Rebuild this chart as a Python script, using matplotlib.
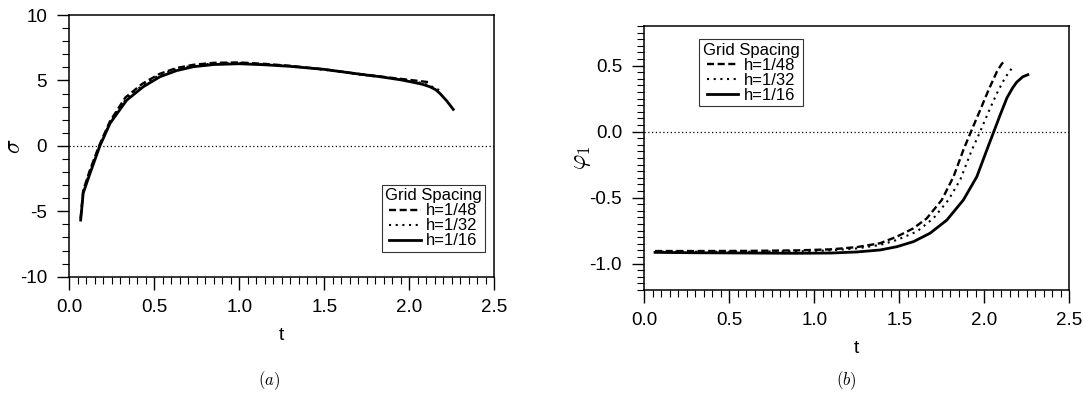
import numpy as np
import matplotlib.pyplot as plt
from matplotlib.ticker import MultipleLocator, FormatStrFormatter

plt.rcParams['font.family'] = ['Liberation Sans', 'DejaVu Sans']
plt.rcParams['axes.unicode_minus'] = False
plt.rcParams['mathtext.fontset'] = 'cm'

# (a) sigma vs t
t_a_48 = [0.067, 0.082, 0.12, 0.175, 0.24, 0.33, 0.43, 0.53, 0.63, 0.73, 0.85, 1.0,
          1.15, 1.3, 1.5, 1.7, 1.9, 2.0, 2.122]
s_a_48 = [-5.5, -3.4, -1.9, 0.0, 1.9, 3.7, 4.75, 5.5, 5.95, 6.2, 6.35, 6.38,
          6.27, 6.12, 5.85, 5.5, 5.2, 5.05, 4.86]
t_a_32 = [0.067, 0.082, 0.12, 0.177, 0.24, 0.335, 0.432, 0.53, 0.63, 0.73, 0.85, 1.0,
          1.15, 1.3, 1.5, 1.7, 1.9, 2.0, 2.08, 2.14, 2.176]
s_a_32 = [-5.6, -3.5, -2.0, 0.0, 1.82, 3.6, 4.65, 5.42, 5.88, 6.15, 6.3, 6.35,
          6.24, 6.1, 5.82, 5.47, 5.15, 4.98, 4.8, 4.5, 4.27]
t_a_16 = [0.067, 0.082, 0.122, 0.18, 0.24, 0.338, 0.435, 0.534, 0.63, 0.729, 0.85, 1.0,
          1.15, 1.3, 1.5, 1.7, 1.828, 1.95, 2.024, 2.08, 2.122, 2.155, 2.18, 2.22, 2.259]
s_a_16 = [-5.67, -3.6, -2.1, 0.0, 1.73, 3.5, 4.52, 5.29, 5.75, 6.05, 6.22, 6.28,
          6.2, 6.08, 5.85, 5.5, 5.29, 5.05, 4.86, 4.7, 4.52, 4.3, 4.02, 3.45, 2.79]

# (b) phi_1 vs t
t_b_48 = [0.063, 0.3, 0.6, 0.9, 1.1, 1.25, 1.386, 1.485, 1.582, 1.661, 1.749, 1.818,
          1.876, 1.921, 1.975, 2.024, 2.073, 2.1, 2.122]
p_b_48 = [-0.905, -0.905, -0.904, -0.9, -0.892, -0.875, -0.846, -0.796, -0.733, -0.657,
          -0.518, -0.342, -0.139, 0.0, 0.164, 0.315, 0.454, 0.51, 0.542]
t_b_32 = [0.063, 0.3, 0.6, 0.9, 1.1, 1.25, 1.386, 1.485, 1.602, 1.7, 1.788, 1.857,
          1.926, 1.975, 2.024, 2.073, 2.122, 2.171]
p_b_32 = [-0.91, -0.91, -0.91, -0.907, -0.9, -0.885, -0.859, -0.821, -0.758, -0.657,
          -0.518, -0.367, -0.139, 0.0, 0.15, 0.29, 0.41, 0.497]
t_b_16 = [0.063, 0.3, 0.6, 0.9, 1.1, 1.25, 1.386, 1.485, 1.582, 1.68, 1.779, 1.876,
          1.955, 2.014, 2.055, 2.092, 2.132, 2.165, 2.19, 2.225, 2.255]
p_b_16 = [-0.915, -0.918, -0.92, -0.922, -0.92, -0.912, -0.897, -0.872, -0.834, -0.77,
          -0.67, -0.518, -0.342, -0.139, 0.0, 0.125, 0.255, 0.33, 0.375, 0.415, 0.431]

labels = ['h=1/48', 'h=1/32', 'h=1/16']
styles = [dict(ls=(0, (3, 1.5)), lw=1.7), dict(ls=(0, (1, 2.2)), lw=1.5), dict(ls='-', lw=2.0)]


def style_axes(ax, ymaj, ymin):
    ax.xaxis.set_major_locator(MultipleLocator(0.5))
    ax.xaxis.set_minor_locator(MultipleLocator(0.05))
    ax.xaxis.set_major_formatter(FormatStrFormatter('%.1f'))
    ax.yaxis.set_major_locator(MultipleLocator(ymaj))
    ax.yaxis.set_minor_locator(MultipleLocator(ymin))
    ax.tick_params(which='major', direction='out', length=9, width=1.0, labelsize=13.5, pad=7)
    ax.tick_params(which='minor', direction='out', length=5, width=0.8)
    ax.tick_params(top=False, right=False)
    for s in ax.spines.values():
        s.set_linewidth(1.1)
    ax.axhline(0, color='black', ls=(0, (1, 2)), lw=0.9)
    ax.set_xlabel('t', fontsize=14, labelpad=8)


def add_legend(ax, corner):
    leg = ax.legend(title='Grid Spacing', loc='upper left', bbox_to_anchor=corner,
                    fontsize=12, title_fontsize=12, frameon=True, fancybox=False,
                    edgecolor='black', handlelength=1.9, handletextpad=0.3, labelspacing=0.0,
                    borderpad=0.2, borderaxespad=0)
    leg.get_frame().set_linewidth(0.8)
    return leg


fig = plt.figure(figsize=(10.86, 3.94), dpi=100)
ax1 = fig.add_axes([0.0638, 0.2977, 0.3913, 0.664])
ax2 = fig.add_axes([0.5933, 0.264, 0.3915, 0.670])

for t, y, lab, st in zip([t_a_48, t_a_32, t_a_16], [s_a_48, s_a_32, s_a_16], labels, styles):
    ax1.plot(t, y, color='black', label=lab, **st)
ax1.set_xlim(0, 2.5)
ax1.set_ylim(-10, 10)
style_axes(ax1, 5, 1)
ax1.set_ylabel(r'$\sigma$', fontsize=17)
ax1.yaxis.set_label_coords(-0.105, 0.5)
add_legend(ax1, (0.735, 0.35))

for t, y, lab, st in zip([t_b_48, t_b_32, t_b_16], [p_b_48, p_b_32, p_b_16], labels, styles):
    ax2.plot(t, y, color='black', label=lab, **st)
ax2.set_xlim(0, 2.5)
ax2.set_ylim(-1.2, 0.8)
style_axes(ax2, 0.5, 0.05)
ax2.yaxis.set_major_formatter(FormatStrFormatter('%.1f'))
ax2.set_ylabel(r'$\varphi_1$', fontsize=17)
ax2.yaxis.set_label_coords(-0.12, 0.5)
add_legend(ax2, (0.129, 0.95))

fig.text(269 / 1086, 1 - 381 / 394, r'$(a)$', fontsize=12, ha='center', va='center')
fig.text(846 / 1086, 1 - 381 / 394, r'$(b)$', fontsize=12, ha='center', va='center')

fig.savefig('out.png', dpi=100)
